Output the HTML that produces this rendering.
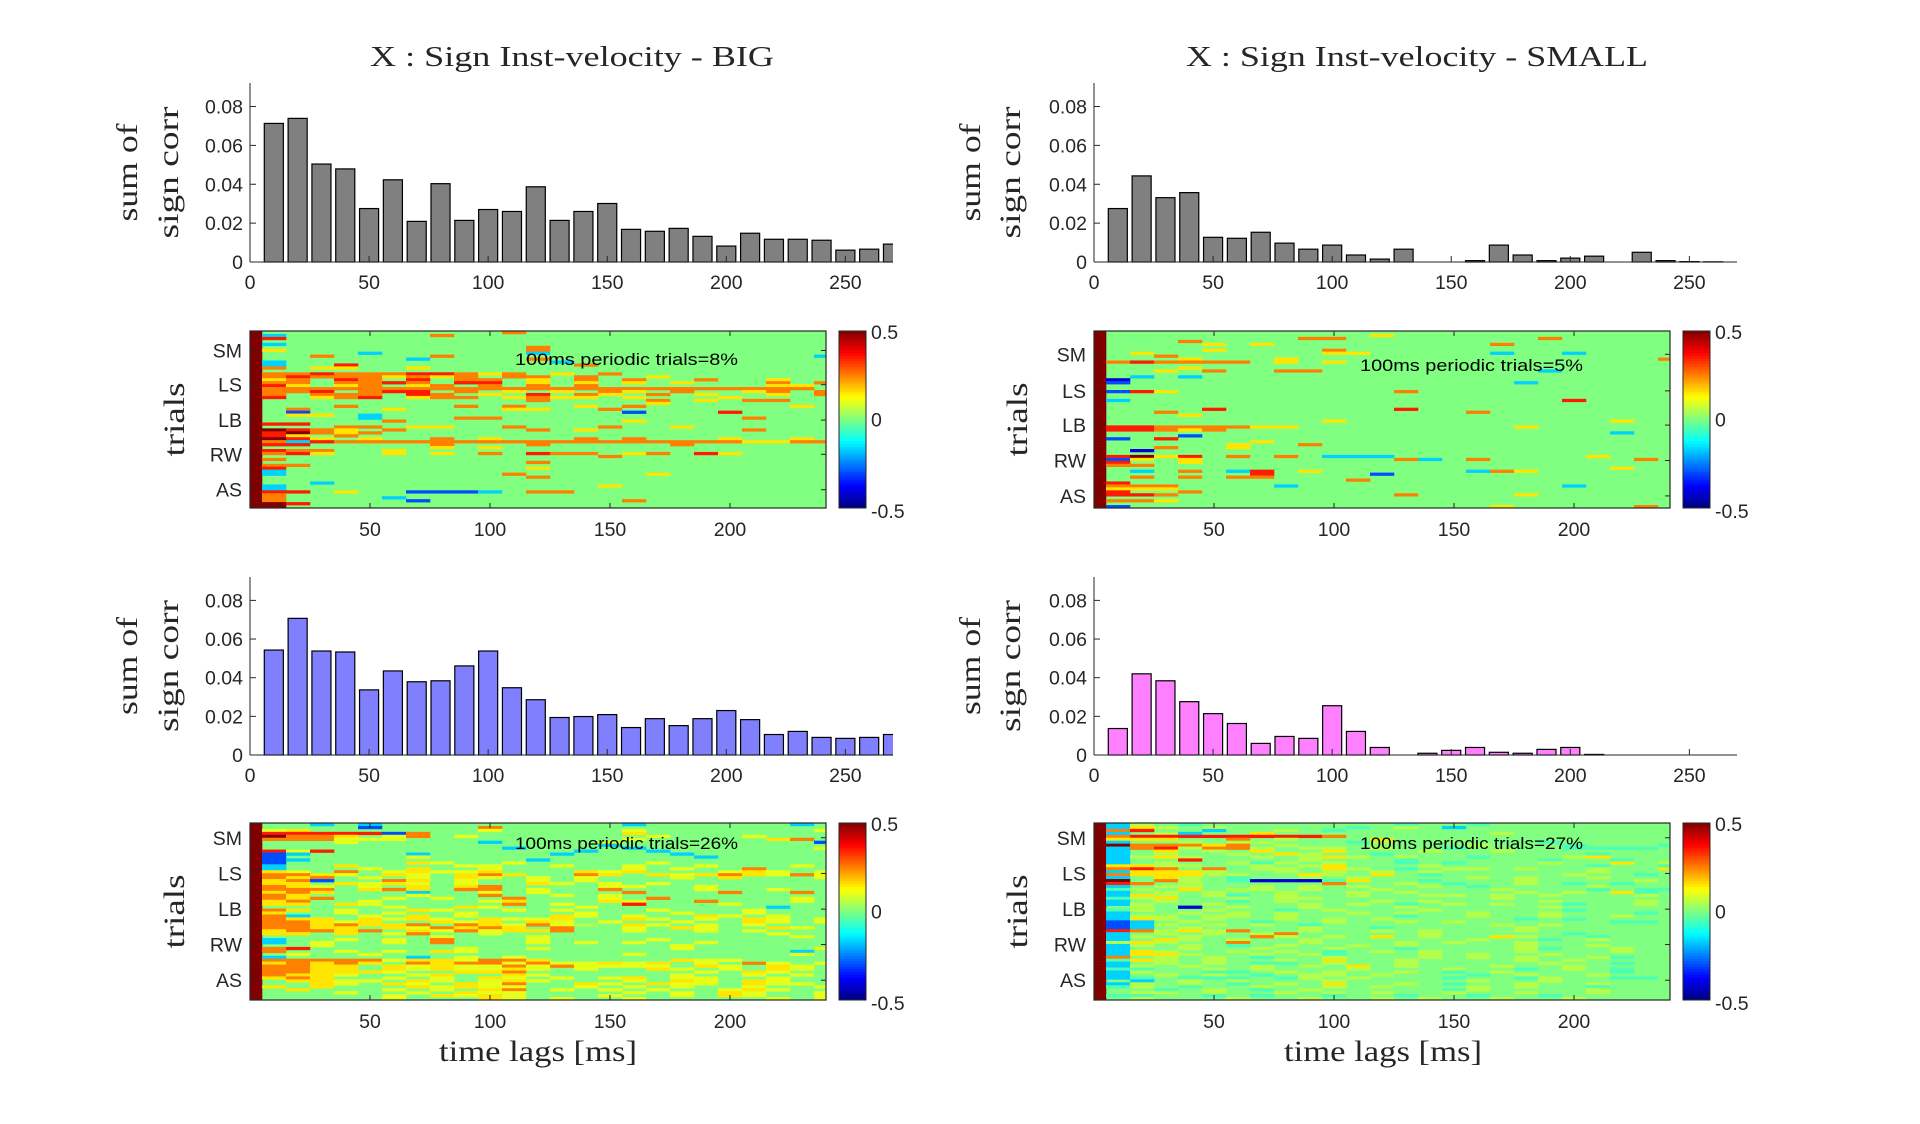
<!DOCTYPE html>
<html><head><meta charset="utf-8"><title>Sign Inst-velocity</title>
<style>
html,body{margin:0;padding:0;background:#fff;}
svg{display:block;}
.tk{font-family:"Liberation Sans",sans-serif;font-size:19.5px;fill:#262626;}
.sf{font-family:"Liberation Serif",serif;fill:#262626;}
.an{font-family:"Liberation Sans",sans-serif;font-size:17px;fill:#000;}
</style></head>
<body>
<svg id="fig" xmlns="http://www.w3.org/2000/svg" width="1920" height="1124" viewBox="0 0 1920 1124">
<rect width="1920" height="1124" fill="#fff"/>
<text class="sf" x="572" y="66" font-size="29" text-anchor="middle" textLength="404" lengthAdjust="spacingAndGlyphs">X : Sign Inst-velocity - BIG</text>
<text class="sf" x="1417" y="66" font-size="29" text-anchor="middle" textLength="462" lengthAdjust="spacingAndGlyphs">X : Sign Inst-velocity - SMALL</text>
<text class="sf" x="538" y="1061" font-size="30" text-anchor="middle" textLength="198" lengthAdjust="spacingAndGlyphs">time lags [ms]</text>
<text class="sf" x="1383" y="1061" font-size="30" text-anchor="middle" textLength="198" lengthAdjust="spacingAndGlyphs">time lags [ms]</text>
<g id="plots"></g>
</svg>
<script>
// ---- bar chart data ----
const lags = [10,20,30,40,50,60,70,80,90,100,110,120,130,140,150,160,170,180,190,200,210,220,230,240,250,260,270];
const bigTop = [0.0713,0.0739,0.0504,0.0479,0.0275,0.0423,0.0209,0.0403,0.0214,0.0270,0.0260,0.0387,0.0214,0.0260,0.0301,0.0168,0.0158,0.0173,0.0132,0.0082,0.0148,0.0117,0.0117,0.0112,0.0061,0.0066,0.0092];
const smallTop = [0.0275,0.0443,0.0331,0.0357,0.0127,0.0122,0.0153,0.0097,0.0066,0.0087,0.0036,0.0015,0.0066,0,0,0.0007,0.0087,0.0036,0.0007,0.0020,0.0030,0,0.0050,0.0007,0.0002,0.0001,0];
const bigBottom = [0.0543,0.0707,0.0538,0.0533,0.0337,0.0435,0.0379,0.0384,0.0461,0.0538,0.0348,0.0286,0.0194,0.0199,0.0209,0.0142,0.0188,0.0152,0.0188,0.0230,0.0183,0.0106,0.0122,0.0091,0.0086,0.0091,0.0106];
const smallBottom = [0.0137,0.0420,0.0384,0.0276,0.0214,0.0163,0.0060,0.0096,0.0086,0.0255,0.0122,0.0039,0,0.0009,0.0024,0.0039,0.0014,0.0009,0.0029,0.0039,0.0003,0,0,0,0,0,0];
const barXTicks = [0,50,100,150,200,250];
const barYTicks = [0,0.02,0.04,0.06,0.08];
const barYTickLabels = ["0","0.02","0.04","0.06","0.08"];
// ---- heatmap data ----
const heatXTicks = [50,100,150,200];
const trialLabels = ["SM","LS","LB","RW","AS"];
const ticksTL = [6.6,18.2,30.2,41.8,53.8];
const ticksTR = [7.9,20.3,31.9,43.9,55.9];
const ticksBL = [5.0,17.1,29.2,41.2,53.3];
const ticksBR = [5.0,17.1,29.2,41.2,53.3];
const cbTicks = [0.5,0,-0.5];
const cbTickLabels = ["0.5","0","-0.5"];
const periodicLabels = ["100ms periodic trials=8%","100ms periodic trials=5%","100ms periodic trials=26%","100ms periodic trials=27%"];
// char -> correlation value
const levelChars = ".ghlyorDcbnO";
const levelVals = [0,0.05,-0.05,0.1,0.15,0.25,0.35,0.5,-0.17,-0.3,-0.42,0.25];
const heatTL = [
"..........o","c......o","r","","c","...........o","y..........o","....c......c","..o....o...............c","......c....o",
"c...........c","c..r.........o","o.yy..y","","oorooorroyo.y.o","oroooyoyo.oo.o..y","yo.ro.r.oo.y.o.o..o..y..","oo.ooro.rr.y.y.y.y...o.o","ry.yo.yo.o.o.o.......yy.","ooooooooooooooooooooooo.",
"oor.orr.o.y.y.oy.o..yo.o","o.ooo.ro.y.r.oy.o.y..y.o","r.yor.yoo.yoyy.y...y","...........o....o.y.oo","................y","...o....o.o..y.o......y",".o...y....yy..o",".b.............b...r",".yy.c","....c...oo..........o",
".....o.........y","rr","...oo.yy..o...o..y","Droy.o.....o.y......o","rDoyo","ry.o","Dry.y..o.y...o.o...y..y.","ocrOOOOOOOOOOOOOOOOOyyoo","rr.....o...o.....o......",".......y.y",
"roo..y","ory..y.y.o.roo.yo.ry","..............o","o","...........o","oo","r..........y","c","c.........o.....y","...........o",
"","..c","c.............y","c","rr.y..bbbc.oo","o","o....c","o.....b........o","Dr","D"];
const heatTR = [
"","...........y","........oo........o","...o","....y.y.........o","","....y....o",".y.......yy.....c..c","..o","...y...y...............o",
"oroooo.y.y","","...y","..y.o..oo.........c","",".c.c","n","b................c","","",
"bry.........o","","","c..................r","","","....r.......r","..o............o","...y","...........................b",
".........y...........y","","rrooooyy.........y","rroyo",".....................c","...b","b.r","......y",".....y..o","..o..y",
".n","","rDyr.o.o.ccc........y","by.y........oc.o......o","r..y","oo",".....................y",".c.o.cr.y......coy","......r....b",".o.o.oo",
"..........o","r","ooo....c...........c","yyy","r..o","rro.........o....y",".........................r","ooy","","b...............y.....o"];
const heatBL = [
"..c.c..........c......c.","....b....o..............","ly.......l.....l.......l","rrrrrbo........y........","Dooy.lo.l.......l...l...","ooolll.........l.....yo.","...l.....c....l........b","..............c.........","..........c....c.......l","rlr..........c..c.......",
"bc....c.....c....c......","b.....l...........c.....","bc.........c............","b.....yl..l.....l.......","c..y....ll..l..l..l...l.","c...l.y..l.....l.l..o...","yl.o.lylly...yly...lyl.l","ooyl.yl.yoy..oy.ylyoylol","oyo.l.l.yl.l.l...l.y...l","yob..oy.l..l.l..........",
"yy.ylyl.l..yl.l.l.......","oyl.l.y.yo....ll..l.....","ooo.yoy.oo.l..o...l..l..","yoy...c..l.l...o...o..o.","oy....l..o..l.l.........","oyo..l.l..o...l.o.....l.","yo..l....ly...yl..o...l.","yy.yl.....o.l..r...l....",".....l..yl...l.......c..","oy.l..yl..l.l...l...l...",
"y..l.l..l....l...l..l...","oc..l.y.l...yl.l..yl.l..","oyy.ylyl.ylly..yl.l.yl.l","ooyly..yly.yl.l..l..yl.l","ooyoyyo.oylolg.yl.l.l...","ooyy.yloyoy.o..l.yl..yl.","yooyo.ylolyyo..l..l.l...","yy.y.lo..l...........l..",".......l...l..........l.","c..l.l.o...l....l.......",
"c.l..l.o...l.l.l..l.....","..l..............l......","or......l..l.....l.....l","o..l.l.yl.............c.",".l..l..........l......l.","c.....c.l.l.............","ooooolyylooy.....yll....","yoyoy.oyoolollyly.l.ol.l","ooyy.ylyllolollll.yl.yl..","ooyy.ylyllyl.l..yl.l.yl.",
"ooyyyl..yyo.......l.yl..","oyyl..ly..yl.....l..l.l.","yoy..l.l.yl.l.ly.ll..l..",".yyll.yl.lyl...l.yl.yl..","..yl.yl.yloe.yl.yll.yll.","y.y...ylyll..l.l.l..l..l",".y...l.l.yo.l.l.l..lyl..","...l..l.yll....l.l.yl..l",".....l.ylyl...l..l.yl..l",".....l...yl.l..l.....l.l"];
const heatBR = [
"cg.h........h..h","cyg.g.....h.g.c","or..c..g.h","c.gc..y.........g","orrrrrrrro","yyy..o.g...y","c..g.gg...hg......h","Doooyo.g.......g...h...h","corgoog.gg.g..h....hhhh","c.y.g.y..y...g..g",
"c.g..g.yg..h........h","cgyg..g.gyg.g..h...gy","c..r....g...h.....h..h","c.g..ghg.g..h.h...g..y.g","yygg..g.gy...g......h..h","oro.o.gg.yg.h.gg.g..g..y","cyyyg..g.g.g.g......g..","oyyygg..yg.y.h.....g..h","c.yg.h..g.g....g.g..g..","D.og.hnnnhy..h...g....g",
"ro.g.....o..g.h..g.h.h.","c.gg..g.g.g..g.h....g..","hg.y.gg.g..g....g...h.hh","c.g.g..g..g.g....g.g.yh.","cyg.gh.g..g..gg.g.g...g","hgy..g.gg.......g......","c.g..h.g...g.g....g...g","cg..g...g.g.h.g.g..h..g",".g.n.g..g...g.....g....","hg..g..h.g...g.....h..",
"c..g.g.g..g.g..g..g...h","cgg.gg.g....h..g..g..g","cyg.g..g.g.g.....h.h..","bc.g..h..g..g.g......hh","bcg.g.g.h.......g.g....","bc.g....g..h.....g...","rogygo..g..g.g...g....","c.g.g.go.....g.....h..","cg.g..og.g.y.g..yg..h.","c.yg.g..g......g..h.g",
"gyg..o..g...g.g..g....","cg.g.h.g..g.g....g..g.","c..g..g..g..h....gh..g","cyg..g.g.h.g.g...g...g","cyyg..g.gh...g.g..g...","o.g.g.h..g...g.g.g..gh","hyg.g..g.y..g....g.g..","c.g.g.hh.g..g.....g..h","cg.g..g.g.y.g...g..g..","hh..g.g...g...g..h.g.h",
"cg..hh.g.g..g.h.g....h","c.g.g.h.gg.g...h.g..g.","ch.hhh.hg.g...h..hg..hh",".c.g.g...g.....g..g...","cg.g.h.g.y..g.h..g..g.","hg.h..g..g.g...g.g..h.","..h.g.h.g.....hg....g.",".gg.g..g.g.g..g..g..g","hh..h.h..h..h..h..h",".g...g..g..g.g..g..g."];

const NS="http://www.w3.org/2000/svg";
const root=document.getElementById('plots');
function mk(tag,attrs,parent){const e=document.createElementNS(NS,tag);for(const k in attrs)e.setAttribute(k,attrs[k]);(parent||root).appendChild(e);return e;}
function jet(v){let t=Math.max(0,Math.min(1,v+0.5));const f=x=>Math.round(255*Math.max(0,Math.min(1,1.5-Math.abs(4*t-x))));return `rgb(${f(3)},${f(2)},${f(1)})`;}
function charVal(ch){const i=levelChars.indexOf(ch);return i<0?0:levelVals[i];}

function barChart(name,L,R,T,B,vals,fill,ylx1,ylx2){
  const g=mk('g',{});
  
  
  const xs=v=>L+(v/270)*(R-L);
  const ys=v=>B-(v/0.0921)*(B-T);
  const cid='clip-'+name;
  const cp=mk('clipPath',{id:cid},g);mk('rect',{x:L,y:T-2,width:R-L,height:B-T+4},cp);
  const bg=mk('g',{'clip-path':`url(#${cid})`},g);
  lags.forEach((lag,i)=>{
    const v=vals[i];const x0=xs(lag-4),x1=xs(lag+4);
    const r=mk('rect',{x:x0,y:ys(v),width:x1-x0,height:Math.max(0,B-ys(v)),fill:fill,stroke:'#000','stroke-width':1.2},bg);
    
    
  });
  mk('line',{x1:L,y1:T,x2:L,y2:B,stroke:'#262626','stroke-width':1},g);
  mk('line',{x1:L,y1:B,x2:R,y2:B,stroke:'#262626','stroke-width':1},g);
  barXTicks.forEach(t=>{
    mk('line',{x1:xs(t),y1:B,x2:xs(t),y2:B-6,stroke:'#262626'},g);
    const tx=mk('text',{x:xs(t),y:B+27,'text-anchor':'middle',class:'tk'},g);tx.textContent=t;
    
    
  });
  barYTicks.forEach((t,i)=>{
    mk('line',{x1:L,y1:ys(t),x2:L+6,y2:ys(t),stroke:'#262626'},g);
    const tx=mk('text',{x:L-7,y:ys(t)+7,'text-anchor':'end',class:'tk'},g);tx.textContent=barYTickLabels[i];
    
    
  });
  const cy=(T+B)/2;
  const a=mk('text',{class:'sf','font-size':30,'text-anchor':'middle',transform:`translate(${ylx1},${cy}) rotate(-90)`,textLength:98,lengthAdjust:'spacingAndGlyphs'},g);a.textContent='sum of';
  
  
  const b=mk('text',{class:'sf','font-size':30,'text-anchor':'middle',transform:`translate(${ylx2},${cy}) rotate(-90)`,textLength:132,lengthAdjust:'spacingAndGlyphs'},g);b.textContent='sign corr';
  
  
}

function heatmap(name,L,R,T,B,rows,ticks,cbL,label,tlx,annX,annY){
  const g=mk('g',{});
  
  
  const xs=v=>L+(v/240)*(R-L);
  const nR=rows.length;const rh=(B-T)/nR;
  const cid='clip-'+name;
  const cp=mk('clipPath',{id:cid},g);mk('rect',{x:L,y:T,width:R-L,height:B-T},cp);
  const cg=mk('g',{'clip-path':`url(#${cid})`},g);
  mk('rect',{x:L,y:T,width:R-L,height:B-T,fill:jet(0)},cg);
  rows.forEach((s,ri)=>{
    for(let c=0;c<25;c++){
      const v=c===0?0.5:charVal(s[c-1]||'.');
      if(v===0)continue;
      const x0=xs(c*10-5),x1=xs(c*10+5);
      const r=mk('rect',{x:x0,y:T+ri*rh,width:x1-x0+0.3,height:rh+0.3,fill:jet(v)},cg);
      
      
    }
  });
  mk('rect',{x:L,y:T,width:R-L,height:B-T,fill:'none',stroke:'#262626','stroke-width':1.2},g);
  heatXTicks.forEach(t=>{
    mk('line',{x1:xs(t),y1:B,x2:xs(t),y2:B-5,stroke:'#262626'},g);
    mk('line',{x1:xs(t),y1:T,x2:xs(t),y2:T+5,stroke:'#262626'},g);
    const tx=mk('text',{x:xs(t),y:B+28,'text-anchor':'middle',class:'tk'},g);tx.textContent=t;
    
    
  });
  ticks.forEach((rv,i)=>{
    const y=T+rv*rh;
    mk('line',{x1:L,y1:y,x2:L+5,y2:y,stroke:'#262626'},g);
    mk('line',{x1:R,y1:y,x2:R-5,y2:y,stroke:'#262626'},g);
    const tx=mk('text',{x:L-8,y:y+7,'text-anchor':'end',class:'tk'},g);tx.textContent=trialLabels[i];
    
    
  });
  const tl=mk('text',{class:'sf','font-size':30,'text-anchor':'middle',transform:`translate(${tlx},${(T+B)/2}) rotate(-90)`,textLength:74,lengthAdjust:'spacingAndGlyphs'},g);tl.textContent='trials';
  
  
  const an=mk('text',{x:annX,y:annY,class:'an',textLength:223,lengthAdjust:'spacingAndGlyphs'},g);an.textContent=label;
  
  
  const cb=mk('g',{},g);
  
  
  const cw=27, n=64;
  for(let k=0;k<n;k++){
    const v=0.5-(k+0.5)/n;
    mk('rect',{x:cbL,y:T+k*(B-T)/n,width:cw,height:(B-T)/n+0.4,fill:jet(v)},cb);
  }
  mk('rect',{x:cbL,y:T,width:cw,height:B-T,fill:'none',stroke:'#262626','stroke-width':1},cb);
  cbTicks.forEach((t,i)=>{
    const y=T+(0.5-t)*(B-T);
    const tx=mk('text',{x:cbL+cw+5,y:y+(i===0?8:i===2?10:7),class:'tk'},cb);tx.textContent=cbTickLabels[i];
    
    
  });
}

barChart('bar-chart-big-top',250,893,83,262,bigTop,'#808080',137,178);
barChart('bar-chart-small-top',1094,1737,83,262,smallTop,'#808080',980,1020);
barChart('bar-chart-big-bottom',250,893,577,755,bigBottom,'#8080ff',137,178);
barChart('bar-chart-small-bottom',1094,1737,577,755,smallBottom,'#ff80ff',980,1020);
heatmap('heatmap-big-top',250,826,331,508,heatTL,ticksTL,839,periodicLabels[0],184,515,365);
heatmap('heatmap-small-top',1094,1670,331,508,heatTR,ticksTR,1683,periodicLabels[1],1027,1360,371);
heatmap('heatmap-big-bottom',250,826,823,1000,heatBL,ticksBL,839,periodicLabels[2],184,515,849);
heatmap('heatmap-small-bottom',1094,1670,823,1000,heatBR,ticksBR,1683,periodicLabels[3],1027,1360,849);
</script>
</body></html>
